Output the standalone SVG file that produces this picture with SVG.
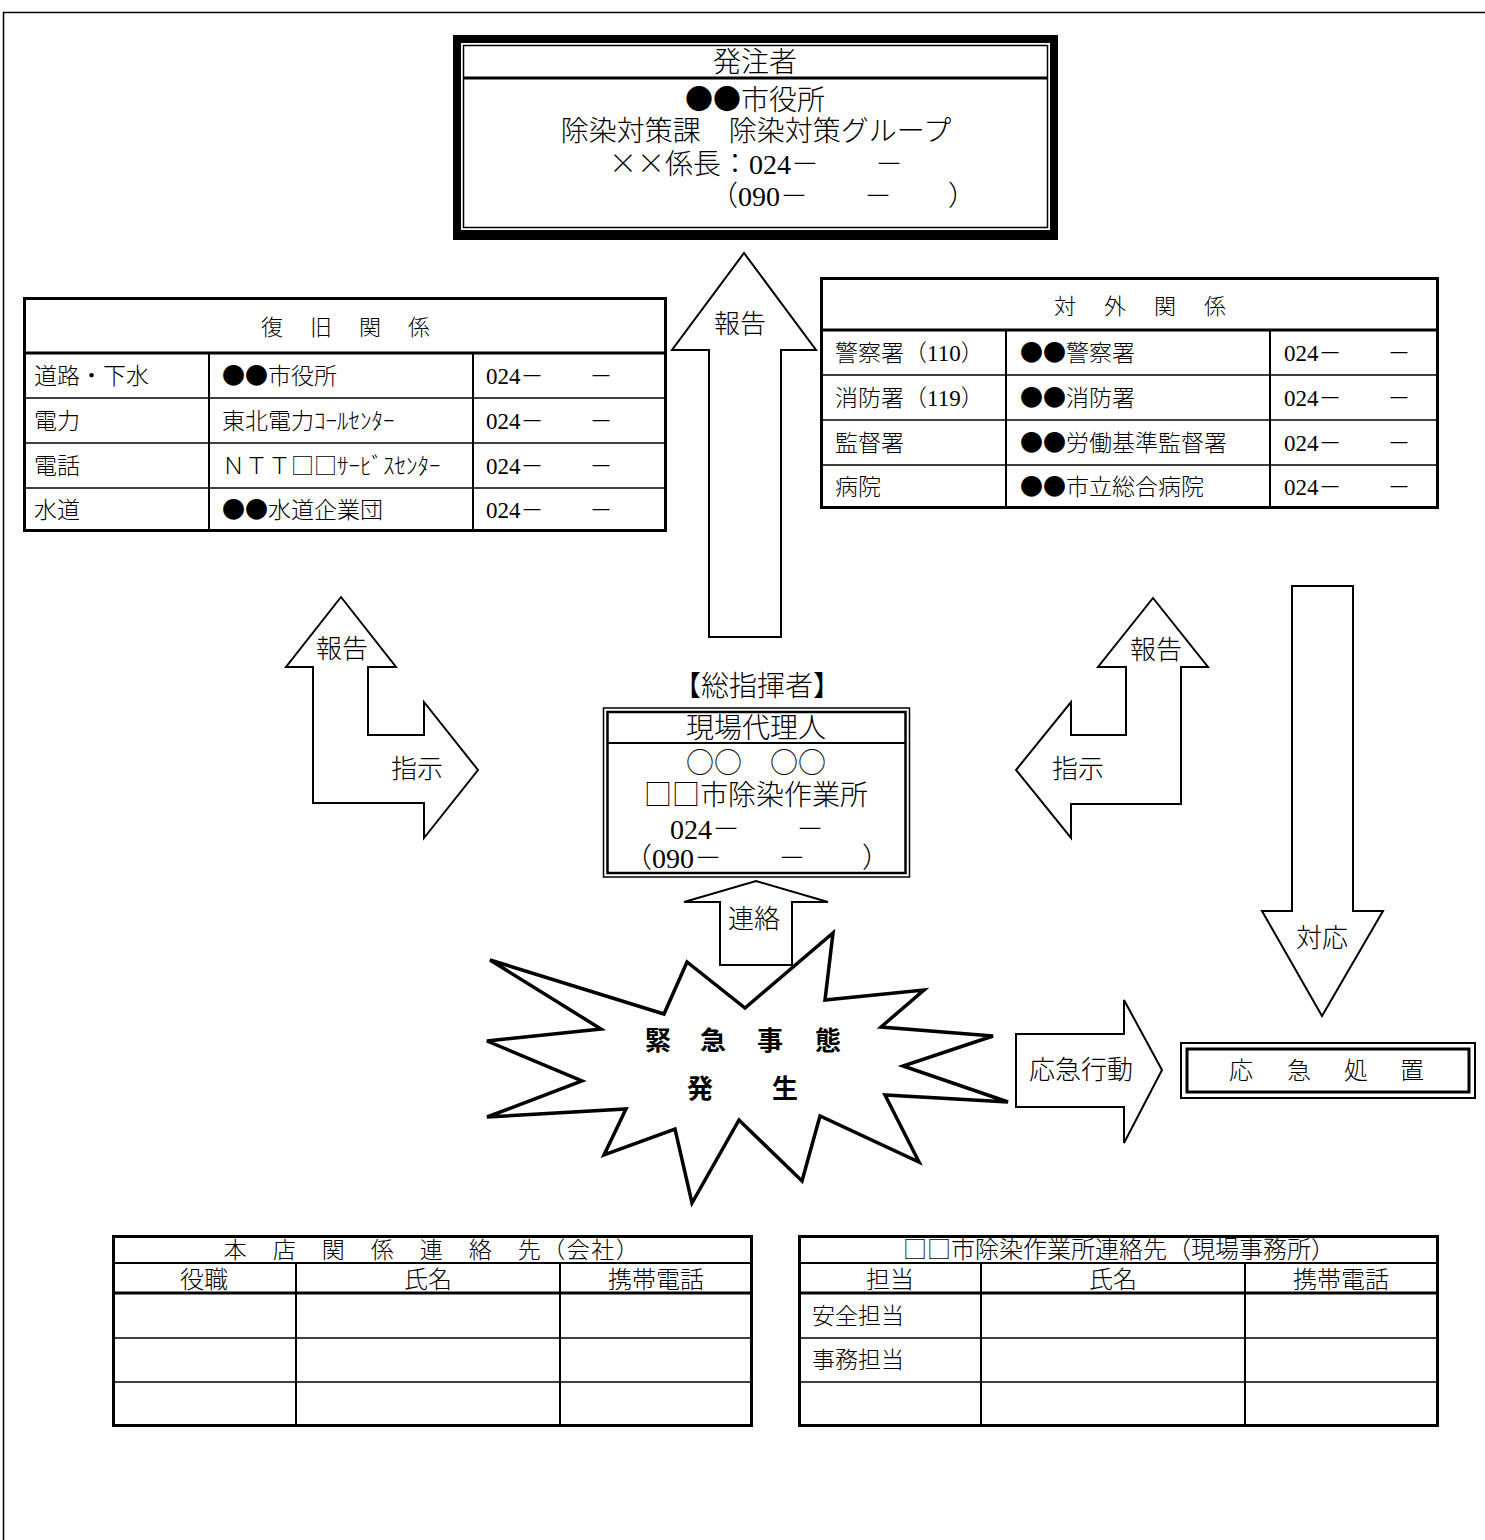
<svg xmlns="http://www.w3.org/2000/svg" width="1485" height="1540" viewBox="0 0 1485 1540">
<style>
text{font-family:"Noto Sans CJK JP","Noto Sans CJK SC",sans-serif;fill:#000;font-weight:300}
.n{font-family:"Liberation Serif","Noto Sans CJK JP",serif;font-weight:normal}
.f28{font-size:28px}
.f26{font-size:26px}
.f24{font-size:24px}
.f23{font-size:23px}
.f22{font-size:22px}
.mid{text-anchor:middle}
.fw{font-feature-settings:"fwid" 1}
.ar{fill:#fff;stroke:#000;stroke-width:2}
.tb{fill:#fff;stroke:#000;stroke-width:3}
.th{stroke:#000;stroke-width:3}
.tl{stroke:#000;stroke-width:1.5}
.tc{stroke:#000;stroke-width:2}
.b{font-weight:bold}
</style>
<rect width="1485" height="1540" fill="#fff"/>
<rect x="3.5" y="12.5" width="1600" height="1600" fill="none" stroke="#000" stroke-width="1.5"/>

<g id="connectors">
  <polygon id="arrow-report-top" class="ar" points="709,637 709,350 672,350 744,253 816,350 781,350 781,637"/>
  <text class="f26 mid" x="740" y="333">報告</text>
  <polygon id="arrow-left-bent" class="ar" points="341,597 396,667 368,667 368,735 424,735 424,702 478,770 424,838 424,803 313,803 313,667 286,667"/>
  <text class="f26 mid" x="342" y="658">報告</text>
  <text class="f26 mid" x="417" y="778">指示</text>
  <polygon id="arrow-right-bent" class="ar" points="1153,598 1208,667 1181,667 1181,804 1071,804 1071,838 1016,770 1071,702 1071,735 1126,735 1126,667 1098,667"/>
  <text class="f26 mid" x="1156" y="659">報告</text>
  <text class="f26 mid" x="1078" y="778">指示</text>
  <polygon id="arrow-response" class="ar" points="1292,586 1353,586 1353,911 1383,911 1322,1016 1262,911 1292,911"/>
  <text class="f26 mid" x="1322" y="947">対応</text>
  <polygon id="arrow-contact" class="ar" points="720,965 720,902 684,902 756,881 828,902 792,902 792,965"/>
  <text class="f26 mid" x="754" y="928">連絡</text>
  <polygon id="arrow-emergency" class="ar" points="1016,1034 1124,1034 1124,1000 1162,1070 1124,1143 1124,1107 1016,1107"/>
  <text class="f26 mid" x="1081" y="1079">応急行動</text>
</g>

<g id="node-orderer">
  <rect x="453" y="35" width="605" height="205" fill="#000"/>
  <rect x="461" y="43" width="589" height="187" fill="#fff"/>
  <rect x="463.5" y="45.5" width="584" height="182" fill="none" stroke="#000" stroke-width="1.5"/>
  <line x1="463" y1="78" x2="1048" y2="78" stroke="#000" stroke-width="3"/>
  <text class="f28 mid" x="755" y="72">発注者</text>
  <text class="f28 mid" x="755" y="110">●●市役所</text>
  <text class="f28 mid" x="756" y="141">除染対策課　除染対策グループ</text>
  <text class="f28 mid" x="756" y="174"><tspan class="fw">××</tspan>係長：<tspan class="n">024</tspan>－　　－</text>
  <text class="f28" x="710" y="206">（<tspan class="n">090</tspan>－　　－　　）</text>
</g>

<g id="node-recovery">
  <rect class="tb" x="24.5" y="298.5" width="641" height="232"/>
  <line class="th" x1="24" y1="353" x2="666" y2="353"/>
  <line class="tl" x1="24" y1="398" x2="666" y2="398"/>
  <line class="tl" x1="24" y1="443" x2="666" y2="443"/>
  <line class="tl" x1="24" y1="488" x2="666" y2="488"/>
  <line class="tc" x1="209" y1="353" x2="209" y2="531"/>
  <line class="tc" x1="473" y1="353" x2="473" y2="531"/>
  <text class="f22 mid" x="272 321 370 419" y="335">復旧関係</text>
  <text class="f23" x="34" y="384">道路・下水</text>
  <text class="f23" x="222" y="384">●●市役所</text>
  <text class="f23" x="486" y="384"><tspan class="n">024</tspan>－　　－</text>
  <text class="f23" x="34" y="429">電力</text>
  <text class="f23" x="222" y="429">東北電力ｺｰﾙｾﾝﾀｰ</text>
  <text class="f23" x="486" y="429"><tspan class="n">024</tspan>－　　－</text>
  <text class="f23" x="34" y="474">電話</text>
  <text class="f23" x="222" y="474">ＮＴＴ□□ｻｰﾋﾞｽｾﾝﾀｰ</text>
  <text class="f23" x="486" y="474"><tspan class="n">024</tspan>－　　－</text>
  <text class="f23" x="34" y="518">水道</text>
  <text class="f23" x="222" y="518">●●水道企業団</text>
  <text class="f23" x="486" y="518"><tspan class="n">024</tspan>－　　－</text>
</g>

<g id="node-external">
  <rect class="tb" x="821.5" y="278.5" width="616" height="229"/>
  <line class="th" x1="821" y1="330" x2="1438" y2="330"/>
  <line class="tl" x1="821" y1="375" x2="1438" y2="375"/>
  <line class="tl" x1="821" y1="420" x2="1438" y2="420"/>
  <line class="tl" x1="821" y1="465" x2="1438" y2="465"/>
  <line class="tc" x1="1006" y1="330" x2="1006" y2="508"/>
  <line class="tc" x1="1270" y1="330" x2="1270" y2="508"/>
  <text class="f22 mid" x="1065 1115 1165 1215" y="314">対外関係</text>
  <text class="f23" x="835" y="361">警察署（<tspan class="n">110</tspan>）</text>
  <text class="f23" x="1020" y="361">●●警察署</text>
  <text class="f23" x="1284" y="361"><tspan class="n">024</tspan>－　　－</text>
  <text class="f23" x="835" y="406">消防署（<tspan class="n">119</tspan>）</text>
  <text class="f23" x="1020" y="406">●●消防署</text>
  <text class="f23" x="1284" y="406"><tspan class="n">024</tspan>－　　－</text>
  <text class="f23" x="835" y="451">監督署</text>
  <text class="f23" x="1020" y="451">●●労働基準監督署</text>
  <text class="f23" x="1284" y="451"><tspan class="n">024</tspan>－　　－</text>
  <text class="f23" x="835" y="495">病院</text>
  <text class="f23" x="1020" y="495">●●市立総合病院</text>
  <text class="f23" x="1284" y="495"><tspan class="n">024</tspan>－　　－</text>
</g>

<g id="node-commander">
  <text class="f28 mid" x="757" y="696">【総指揮者】</text>
  <rect x="603.5" y="708" width="306" height="169" fill="#fff" stroke="#000" stroke-width="1.5"/>
  <rect x="607.5" y="712" width="298" height="161" fill="none" stroke="#000" stroke-width="2.5"/>
  <line x1="607" y1="743" x2="906" y2="743" stroke="#000" stroke-width="2"/>
  <text class="f28 mid" x="756" y="738">現場代理人</text>
  <text class="f28 mid" x="756" y="773">○○　○○</text>
  <text class="f28 mid" x="756" y="805">□□市除染作業所</text>
  <text class="f28 mid" x="747" y="839"><tspan class="n">024</tspan>－　　－</text>
  <text class="f28 mid" x="757" y="868">（<tspan class="n">090</tspan>－　　－　　）</text>
</g>

<g id="node-emergency">
  <polygon points="490,960 664,1014 687,962 745,1008 833,933 825,1000 924,990 881,1027 993,1036 903,1066 1008,1102 885,1095 919,1162 820,1116 802,1181 739,1120 692,1203 675,1129 604,1155 626,1109 487,1117 582,1081 487,1041 601,1029" fill="#fff" stroke="#000" stroke-width="3.5"/>
  <text class="f26 mid b" x="658 713 770 828" y="1050">緊急事態</text>
  <text class="f26 mid b" x="700 785" y="1098">発生</text>
</g>

<g id="node-measures">
  <rect x="1181" y="1043" width="294" height="55" fill="#fff" stroke="#000" stroke-width="2"/>
  <rect x="1187" y="1049" width="282" height="43" fill="none" stroke="#000" stroke-width="3"/>
  <text class="f24 mid" x="1241 1299 1356 1412" y="1079">応急処置</text>
</g>

<g id="table-headoffice">
  <rect class="tb" x="113.5" y="1236.5" width="638" height="189"/>
  <line class="tc" x1="113" y1="1263" x2="752" y2="1263"/>
  <line class="th" x1="113" y1="1293" x2="752" y2="1293"/>
  <line class="tl" x1="113" y1="1338" x2="752" y2="1338"/>
  <line class="tl" x1="113" y1="1382" x2="752" y2="1382"/>
  <line class="tc" x1="296" y1="1263" x2="296" y2="1426"/>
  <line class="tc" x1="560" y1="1263" x2="560" y2="1426"/>
  <text class="f23 mid" x="432" y="1258" letter-spacing="1.5">本　店　関　係　連　絡　先（会社）</text>
  <text class="f24 mid" x="204" y="1288">役職</text>
  <text class="f24 mid" x="428" y="1288">氏名</text>
  <text class="f24 mid" x="656" y="1288">携帯電話</text>
</g>

<g id="table-site">
  <rect class="tb" x="799.5" y="1236.5" width="638" height="189"/>
  <line class="tc" x1="799" y1="1263" x2="1438" y2="1263"/>
  <line class="th" x1="799" y1="1293" x2="1438" y2="1293"/>
  <line class="tl" x1="799" y1="1338" x2="1438" y2="1338"/>
  <line class="tl" x1="799" y1="1382" x2="1438" y2="1382"/>
  <line class="tc" x1="981" y1="1263" x2="981" y2="1426"/>
  <line class="tc" x1="1245" y1="1263" x2="1245" y2="1426"/>
  <text class="f24 mid" x="1119" y="1258">□□市除染作業所連絡先（現場事務所）</text>
  <text class="f24 mid" x="890" y="1288">担当</text>
  <text class="f24 mid" x="1113" y="1288">氏名</text>
  <text class="f24 mid" x="1341" y="1288">携帯電話</text>
  <text class="f23" x="812" y="1324">安全担当</text>
  <text class="f23" x="812" y="1368">事務担当</text>
</g>
</svg>
